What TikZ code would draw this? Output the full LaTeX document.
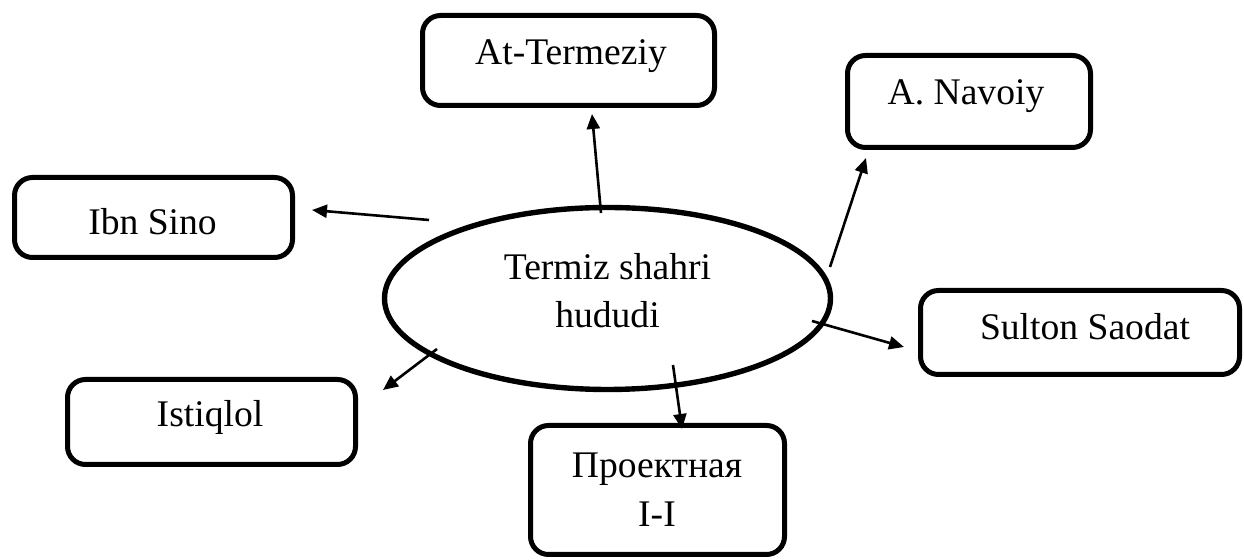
\documentclass[tikz,border=0pt]{standalone}
\usepackage{fontspec}
\setmainfont{Liberation Serif}
\usetikzlibrary{arrows.meta,shapes.geometric}
\begin{document}
\begin{tikzpicture}[x=0.5pt,y=-0.5pt,
  box/.style={draw,line width=2.5pt,rounded corners=9pt,inner sep=0pt},
  lbl/.style={anchor=base,inner sep=0pt,font=\fontsize{18.8}{24}\selectfont},
  conn/.style={line width=1.3pt,-{Triangle[length=7.5pt,width=6.5pt]}}]
\useasboundingbox (0,0) rectangle (1244,560);
% centre ellipse
\node[draw,ellipse,line width=2.7pt,minimum width=223pt,minimum height=91pt,inner sep=0pt] (c) at (607.5,298.5) {};
\node[lbl] (c1) at (607.5,280) {Termiz shahri};
\node[lbl] (c2) at (607.5,328) {hududi};
% boxes
\node[box,minimum width=146pt,minimum height=45pt] (at) at (568.5,60.5) {};
\node[lbl] (att) at (571,65) {At-Termeziy};
\node[box,minimum width=121.5pt,minimum height=46pt] (nav) at (969,101.5) {};
\node[lbl] (navt) at (966,105) {A. Navoiy};
\node[box,minimum width=139pt,minimum height=40pt] (ibn) at (153.5,217.5) {};
\node[lbl] (ibnt) at (152.5,235) {Ibn Sino};
\node[box,minimum width=159.5pt,minimum height=42pt] (sul) at (1080,332.5) {};
\node[lbl] (sult) at (1085,340) {Sulton Saodat};
\node[box,minimum width=144pt,minimum height=42.5pt] (ist) at (211.5,422) {};
\node[lbl] (istt) at (210,427) {Istiqlol};
\node[box,minimum width=127pt,minimum height=64.5pt] (pro) at (657.5,490) {};
\node[lbl] (pro1) at (657,478) {Проектная};
\node[lbl] (pro2) at (657,527) {I-I};
% connectors
\coordinate (s1) at (601,213); \coordinate (e1) at (592,114);
\coordinate (s2) at (429,220); \coordinate (e2) at (312,210);
\coordinate (s3) at (830,267); \coordinate (e3) at (866,158);
\coordinate (s4) at (812,321); \coordinate (e4) at (904,347);
\coordinate (s5) at (437,349); \coordinate (e5) at (383,390);
\coordinate (s6) at (673,365); \coordinate (e6) at (682,429);
\draw[conn] (s1) -- (e1);
\draw[conn] (s2) -- (e2);
\draw[conn] (s3) -- (e3);
\draw[conn] (s4) -- (e4);
\draw[conn] (s5) -- (e5);
\draw[conn] (s6) -- (e6);
\end{tikzpicture}
\end{document}
